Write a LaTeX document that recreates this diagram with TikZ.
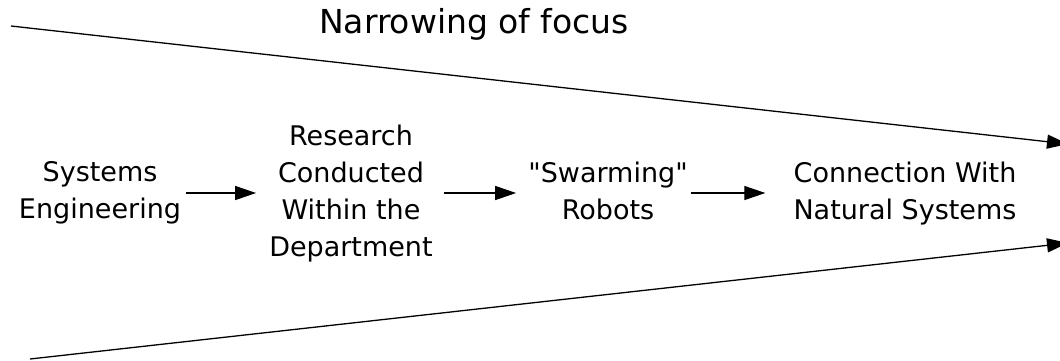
\documentclass[tikz,border=0pt]{standalone}
\usepackage{fontspec}
\setmainfont{DejaVu Sans}[Ligatures=TeXOff]
\usetikzlibrary{arrows.meta}
\tikzset{
  lbl/.style={align=center, inner sep=0pt, font=\fontsize{27}{37}\selectfont},
  ttl/.style={inner sep=0pt, font=\fontsize{33}{40}\selectfont},
  flow/.style={line width=1.3pt, -{Triangle[length=21pt,width=14pt]}},
  edge/.style={line width=1.3pt, -{Triangle[length=21pt,width=14pt]}}
}
\begin{document}
\begin{tikzpicture}[x=1pt,y=-1pt]
\clip (0,0) rectangle (1060,360);
\fill[white] (0,0) rectangle (1060,360);
\node[ttl] (title) at (474,24) {Narrowing of focus};
\node[lbl] (se) at (100,193) {Systems\\Engineering};
\node[lbl] (rc) at (351,194) {Research\\Conducted\\Within the\\Department};
\node[lbl] (sw) at (608,191) {"Swarming"\\Robots};
\node[lbl] (cn) at (905,194) {Connection With\\Natural Systems};
\coordinate (t0) at (11,26);
\coordinate (t1) at (1068,144);
\coordinate (b0) at (30,359);
\coordinate (b1) at (1068,243);
\draw[edge] (t0) -- (t1);
\draw[edge] (b0) -- (b1);
\draw[flow] ([xshift=5pt]se.east) -- ([xshift=-13pt]se.east -| rc.west);
\draw[flow] ([xshift=11pt]rc.east |- se.east) -- ([xshift=-12pt]sw.west |- se.east);
\draw[flow] ([xshift=3pt]sw.east |- se.east) -- ([xshift=-28pt]cn.west |- se.east);
\end{tikzpicture}
\end{document}
